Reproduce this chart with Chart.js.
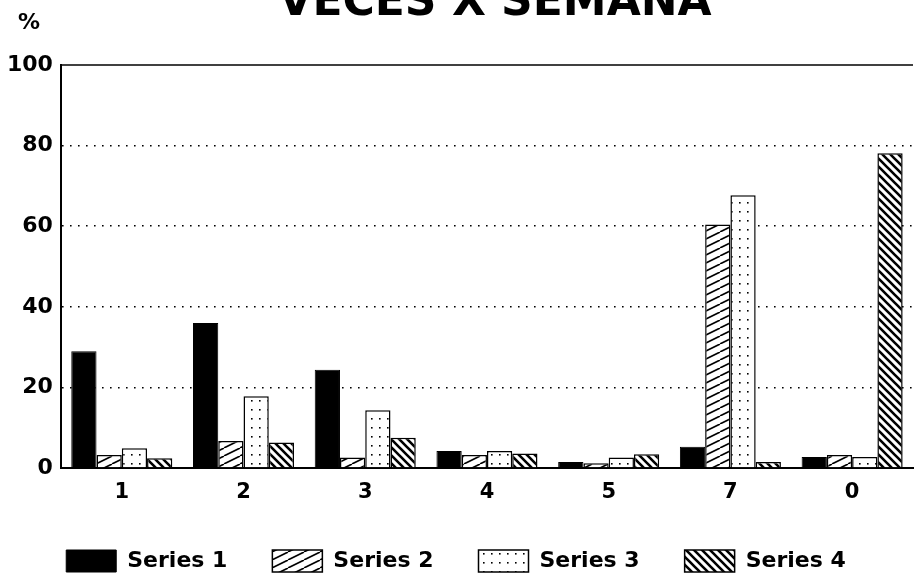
<!DOCTYPE html>
<html>
<head>
<meta charset="utf-8">
<script src="https://cdn.jsdelivr.net/npm/chart.js@4/dist/chart.umd.min.js"></script>
<style>
  html, body { margin: 0; padding: 0; background: #fff; }
  #wrap { width: 915px; height: 573px; }
</style>
</head>
<body>
<div id="wrap"><canvas id="grafica"></canvas></div>
<script>
// datos
var categorias = ['1', '2', '3', '4', '5', '7', '0'];
var serie1 = [29, 36, 24.4, 4.2, 1.5, 5.3, 2.7];
var serie2 = [3.2, 6.7, 2.6, 3.2, 1.2, 60.4, 3.2];
var serie3 = [4.9, 17.8, 14.3, 4.2, 2.6, 67.7, 2.7];
var serie4 = [2.4, 6.3, 7.5, 3.6, 3.4, 1.5, 78.1];
var ticksY = [0, 20, 40, 60, 80, 100];
var titulo = 'VECES X SEMANA';
var fuente = 'DejaVu Sans';

// tramas tipo impresora
function trama(tipo) {
    var c = document.createElement('canvas');
    var g = c.getContext('2d');
    if (tipo === 'rayas') {
        c.width = 16; c.height = 8;
        g.fillStyle = '#fff'; g.fillRect(0, 0, 16, 8);
        g.strokeStyle = '#000'; g.lineWidth = 1.6;
        g.beginPath();
        g.moveTo(-16, 8); g.lineTo(0, 0);
        g.moveTo(0, 8); g.lineTo(16, 0);
        g.moveTo(16, 8); g.lineTo(32, 0);
        g.stroke();
    } else if (tipo === 'puntos') {
        c.width = 8; c.height = 9;
        g.fillStyle = '#fff'; g.fillRect(0, 0, 8, 9);
        g.fillStyle = '#000';
        g.fillRect(3, 4, 1.6, 1.6);
    } else {
        c.width = 8; c.height = 8;
        g.fillStyle = '#fff'; g.fillRect(0, 0, 8, 8);
        g.strokeStyle = '#000'; g.lineWidth = 2.6;
        g.beginPath();
        g.moveTo(-8, 0); g.lineTo(8, 16);
        g.moveTo(0, 0); g.lineTo(8, 8);
        g.moveTo(0, -8); g.lineTo(16, 8);
        g.moveTo(-8, -8); g.lineTo(16, 16);
        g.stroke();
    }
    return g.createPattern(c, 'repeat');
}

// titulo, simbolo % y linea superior
var extras = {
    id: 'extras',
    afterDraw: function(chart) {
        var ctx = chart.ctx;
        var area = chart.chartArea;
        ctx.save();
        ctx.strokeStyle = '#000';
        ctx.lineWidth = 1.5;
        ctx.beginPath();
        ctx.moveTo(area.left, area.top);
        ctx.lineTo(area.right, area.top);
        ctx.stroke();
        ctx.fillStyle = '#000';
        ctx.textAlign = 'center';
        ctx.textBaseline = 'alphabetic';
        ctx.font = 'bold 44px "' + fuente + '"';
        ctx.fillText(titulo, 495, 15);
        ctx.font = 'bold 22px "' + fuente + '"';
        ctx.fillText('%', 29, 29);
        ctx.restore();
    }
};

var ctx = document.getElementById('grafica').getContext('2d');
var miGrafica = new Chart(ctx, {
    type: 'bar',
    data: {
        labels: categorias,
        datasets: [
            { label: 'Series 1', data: serie1, backgroundColor: '#000', borderColor: '#000', borderWidth: 1 },
            { label: 'Series 2', data: serie2, backgroundColor: trama('rayas'), borderColor: '#000', borderWidth: 1.5 },
            { label: 'Series 3', data: serie3, backgroundColor: trama('puntos'), borderColor: '#000', borderWidth: 1.5 },
            { label: 'Series 4', data: serie4, backgroundColor: trama('diag'), borderColor: '#000', borderWidth: 1.5 }
        ]
    },
    options: {
        responsive: true,
        maintainAspectRatio: false,
        animation: false,
        layout: { padding: { top: 65, left: -1, right: 2, bottom: -9 } },
        datasets: { bar: { categoryPercentage: 0.83, barPercentage: 1 } },
        scales: {
            x: {
                grid: { display: false },
                border: { display: true, color: '#000', width: 2 },
                ticks: { color: '#000', font: { family: fuente, weight: 'bold', size: 21, lineHeight: 1 }, padding: 6 },
                // la leyenda puede ocupar el hueco bajo las etiquetas
                afterFit: function(axis) { axis.height -= 4; }
            },
            y: {
                min: 0,
                max: 100,
                afterBuildTicks: function(axis) {
                    axis.ticks = ticksY.map(function(v) { return { value: v }; });
                },
                grid: {
                    drawTicks: false,
                    lineWidth: 1.6,
                    color: function(c) {
                        return (c.tick && (c.tick.value === 0 || c.tick.value === 100)) ? 'rgba(0,0,0,0)' : '#000';
                    }
                },
                border: { display: true, color: '#000', width: 2, dash: [1.6, 6.4] },
                ticks: { color: '#000', font: { family: fuente, weight: 'bold', size: 22 }, padding: 8 }
            }
        },
        plugins: {
            legend: {
                position: 'bottom',
                labels: {
                    color: '#000',
                    boxWidth: 50,
                    boxHeight: 22,
                    padding: 45,
                    font: { family: fuente, weight: 'bold', size: 22, lineHeight: 1 }
                }
            },
            tooltip: { enabled: false }
        }
    },
    plugins: [extras]
});
</script>
</body>
</html>
